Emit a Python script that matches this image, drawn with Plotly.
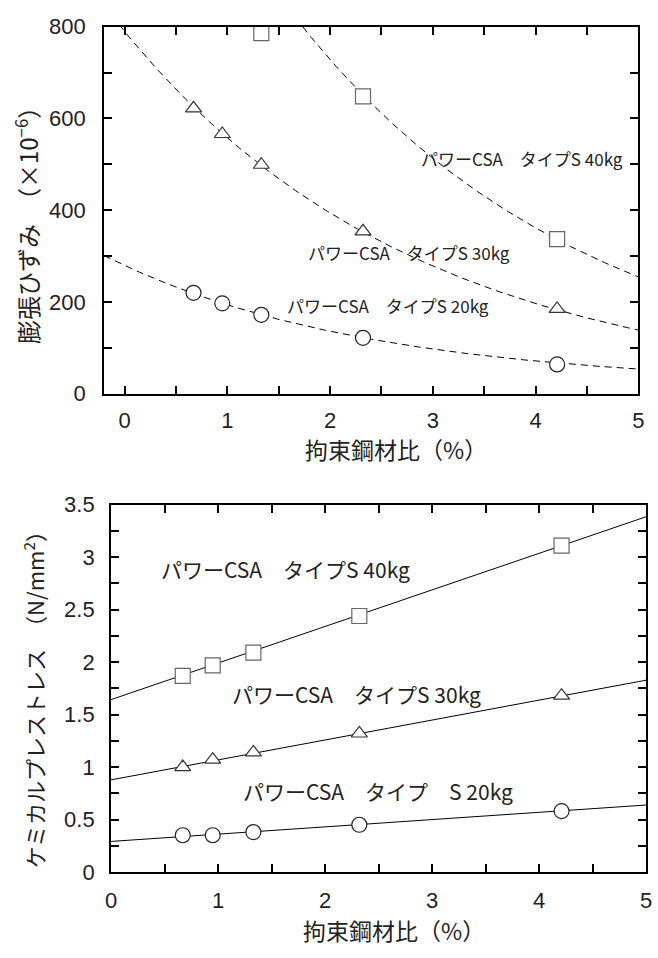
import plotly.graph_objects as go
import numpy as np

# ---------------- data ----------------
steel_ratio = [0.67, 0.95, 1.33, 2.32, 4.21]          # 拘束鋼材比 (%)

# top chart: 膨張ひずみ (x10^-6)
strain_20 = [220, 197, 172, 122, 64]
strain_30 = [622, 566, 499, 354, 185]
strain_40 = [786, 648, 337]
strain_40_x = [1.33, 2.32, 4.21]

# bottom chart: ケミカルプレストレス (N/mm2)
stress_20 = [0.35, 0.35, 0.38, 0.45, 0.58]
stress_30 = [1.00, 1.07, 1.14, 1.32, 1.68]
stress_40 = [1.87, 1.97, 2.09, 2.44, 3.11]

# fitted curves: strain = c + a*exp(b*x)
fit_strain = {"20": (261.4, -0.397, 18.0), "30": (789.0, -0.3474, 0.0), "40": (1466.0, -0.350, 0.0)}
# fitted lines: stress = p + q*x
fit_stress = {"20": (0.291, 0.0694), "30": (0.878, 0.190), "40": (1.643, 0.3486)}

labels = {"20": "パワーCSA　タイプS 20kg", "30": "パワーCSA　タイプS 30kg", "40": "パワーCSA　タイプS 40kg"}
label_20_bottom = "パワーCSA　タイプ　S 20kg"

x_ticks = [0, 1, 2, 3, 4, 5]

# ---------------- figure ----------------
fig = go.Figure()
JP = "Noto Sans CJK JP"
LAT = "Liberation Sans, Arial, sans-serif"
TXT = "#222222"

xs = np.linspace(-0.2, 5, 300)
for key in ["20", "30", "40"]:
    a, b, c = fit_strain[key]
    fig.add_trace(go.Scatter(x=xs, y=c + a * np.exp(b * xs), mode="lines",
                             line=dict(color="black", width=1, dash="7px,5px"),
                             xaxis="x", yaxis="y", showlegend=False, hoverinfo="skip"))

sym = {"20": "circle", "30": "triangle-up", "40": "square"}
mcol = {"20": "#222222", "30": "#333333", "40": "#666666"}
msize = {"20": 15, "30": 14, "40": 15}

for key, xv, yv in [("20", steel_ratio, strain_20), ("30", steel_ratio, strain_30),
                    ("40", strain_40_x, strain_40)]:
    fig.add_trace(go.Scatter(x=xv, y=yv, mode="markers", cliponaxis=False,
                             marker=dict(symbol=sym[key], size=msize[key], color="white",
                                         line=dict(color=mcol[key], width=1.2)),
                             xaxis="x", yaxis="y", showlegend=False))

for key in ["20", "30", "40"]:
    p, q = fit_stress[key]
    fig.add_trace(go.Scatter(x=[0, 5], y=[p, p + 5 * q], mode="lines",
                             line=dict(color="black", width=1),
                             xaxis="x2", yaxis="y2", showlegend=False, hoverinfo="skip"))

for key, yv in [("20", stress_20), ("30", stress_30), ("40", stress_40)]:
    fig.add_trace(go.Scatter(x=steel_ratio, y=yv, mode="markers", cliponaxis=False,
                             marker=dict(symbol=sym[key], size=msize[key], color="white",
                                         line=dict(color=mcol[key], width=1.2)),
                             xaxis="x2", yaxis="y2", showlegend=False))

axis_common = dict(showline=True, linecolor="black", linewidth=2, mirror="ticks",
                   ticks="inside", ticklen=8, tickwidth=2, tickcolor="black",
                   showgrid=False, zeroline=False,
                   tickfont=dict(family=LAT, size=22, color=TXT))

fig.update_layout(
    width=658, height=958, margin=dict(l=0, r=0, t=0, b=0),
    paper_bgcolor="white", plot_bgcolor="white",
    xaxis=dict(domain=[100 / 658, 644 / 658], range=[-0.2, 5], tickvals=x_ticks,
               minor=dict(dtick=0.5, ticks="inside", ticklen=8, tickwidth=2, tickcolor="black"),
               ticklabelstandoff=6, anchor="y", **axis_common),
    yaxis=dict(domain=[566 / 958, 943 / 958], range=[0, 800], dtick=200,
               minor=dict(dtick=100, ticks="inside", ticklen=8, tickwidth=2, tickcolor="black"),
               ticklabelstandoff=12, anchor="x", **axis_common),
    xaxis2=dict(domain=[107 / 658, 652 / 658], range=[0, 5], tickvals=x_ticks,
                minor=dict(dtick=0.5, ticks="inside", ticklen=8, tickwidth=2, tickcolor="black"),
                ticklabelstandoff=8, anchor="y2", **axis_common),
    yaxis2=dict(domain=[75 / 958, 452 / 958], range=[0, 3.5], dtick=0.5,
                minor=dict(dtick=0.25, ticks="inside", ticklen=8, tickwidth=2, tickcolor="black"),
                ticklabelstandoff=10, anchor="x2", **axis_common),
)

ann = []
# curve labels top
ann.append(dict(x=4.87, y=513, xref="x", yref="y", text=labels["40"], xanchor="right", yanchor="middle",
                showarrow=False, font=dict(family=JP, size=17, color=TXT)))
ann.append(dict(x=2.77, y=308, xref="x", yref="y", text=labels["30"], xanchor="center", yanchor="middle",
                showarrow=False, font=dict(family=JP, size=17, color=TXT)))
ann.append(dict(x=2.56, y=192, xref="x", yref="y", text=labels["20"], xanchor="center", yanchor="middle",
                showarrow=False, font=dict(family=JP, size=17, color=TXT)))
# curve labels bottom
ann.append(dict(x=1.627, y=2.89, xref="x2", yref="y2", text=labels["40"], xanchor="center", yanchor="middle",
                showarrow=False, font=dict(family=JP, size=21, color=TXT)))
ann.append(dict(x=2.29, y=1.70, xref="x2", yref="y2", text=labels["30"], xanchor="center", yanchor="middle",
                showarrow=False, font=dict(family=JP, size=21, color=TXT)))
ann.append(dict(x=2.495, y=0.771, xref="x2", yref="y2", text=label_20_bottom, xanchor="center",
                yanchor="middle", showarrow=False, font=dict(family=JP, size=21, color=TXT)))
# axis titles
ann.append(dict(x=397 / 658, y=(958 - 449) / 958, xref="paper", yref="paper", text="拘束鋼材比（%）",
                xanchor="center", yanchor="middle", showarrow=False,
                font=dict(family=JP, size=23, color=TXT)))
ann.append(dict(x=395 / 658, y=(958 - 943) / 958, xref="paper", yref="paper", text="拘束鋼材比（%）",
                xanchor="center", yanchor="middle", showarrow=False,
                font=dict(family=JP, size=23, color=TXT)))
ann.append(dict(x=22 / 658, y=(958 - 213) / 958, xref="paper", yref="paper", textangle=-90,
                text="膨張ひずみ　（×10<sup>−6</sup>）", xanchor="center", yanchor="middle", showarrow=False,
                font=dict(family=JP, size=24, color=TXT)))
ann.append(dict(x=28 / 658, y=(958 - 700) / 958, xref="paper", yref="paper", textangle=-90,
                text="ケミカルプレストレス　（N/mm<sup>2</sup>）", xanchor="center", yanchor="middle",
                showarrow=False, font=dict(family=JP, size=22, color=TXT)))
fig.update_layout(annotations=ann)

fig.write_html("out.html")
